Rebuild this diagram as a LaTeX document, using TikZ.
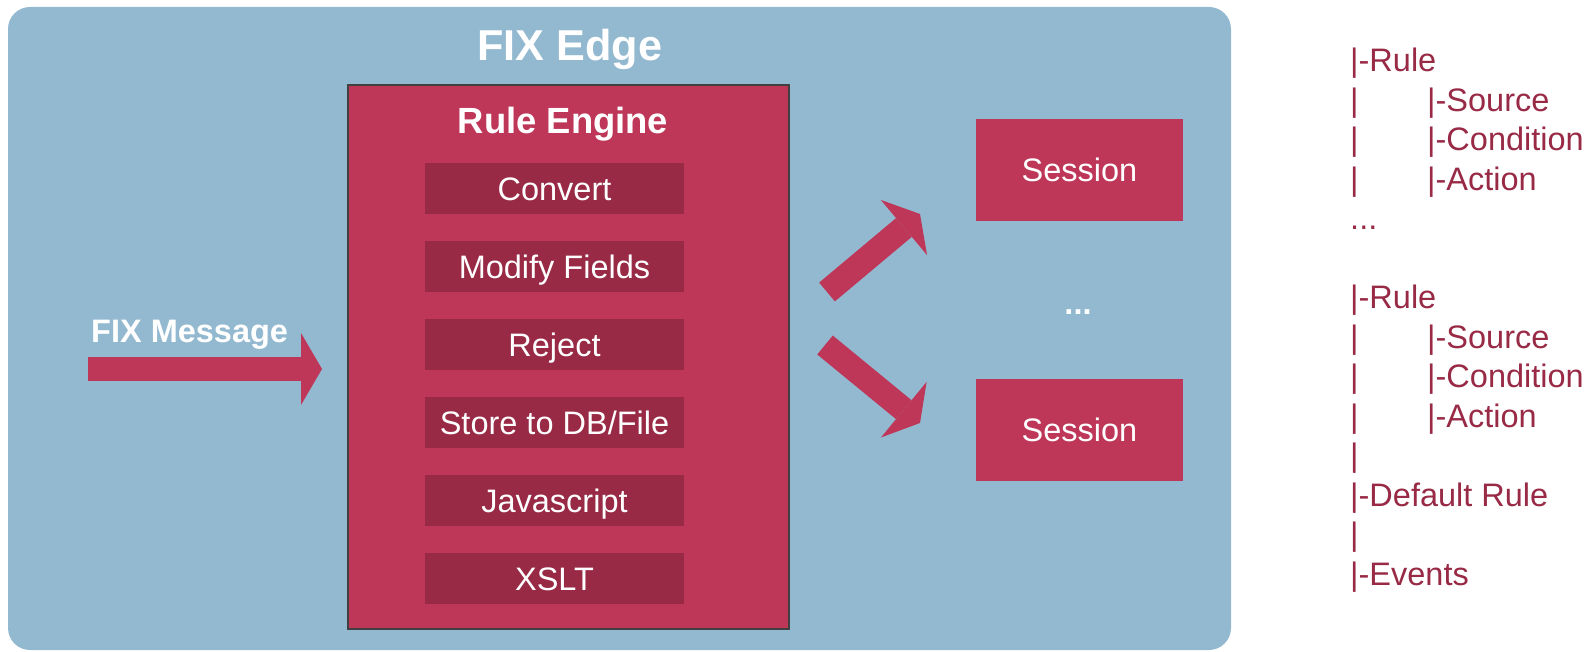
\documentclass[tikz,border=0pt]{standalone}
\usepackage{fontspec}
\setmainfont{Liberation Sans}
\usetikzlibrary{arrows.meta,positioning}
\definecolor{edgeblue}{RGB}{147,185,208}
\definecolor{enginered}{RGB}{190,55,88}
\definecolor{opred}{RGB}{152,42,70}
\newcommand{\treebar}{\makebox[77pt][l]{|}}
\begin{document}
\begin{tikzpicture}[x=1pt,y=-1pt,
    label text/.style={text=white, inner sep=0pt, font=\fontsize{32.5}{39}\selectfont, text height=23.3pt, text depth=0pt},
    opbox/.style={label text, fill=opred, minimum width=259pt, minimum height=51pt},
    sessionbox/.style={label text, fill=enginered, minimum width=207pt, minimum height=102pt},
    treeline/.style={label text, text=opred, anchor=west},
    bigarrow/.style={draw=enginered, line width=24.5pt, -{Triangle[length=21pt,width=72pt,line width=0pt]}}]
    \useasboundingbox (0,0) rectangle (1592,652);

    \node[fill=edgeblue, rounded corners=22pt, minimum width=1223pt, minimum height=643pt, inner sep=0pt] (edge) at (619.5,328.5) {};
    \node[label text, font=\bfseries\fontsize{43.2}{50}\selectfont, text height=31pt] (edgetitle) at (570,45.5) {FIX Edge};

    \node[draw=black!75, line width=1.5pt, fill=enginered, minimum width=441pt, minimum height=544pt, inner sep=0pt] (engine) at (568.5,357) {};
    \node[label text, font=\bfseries\fontsize{36.4}{43}\selectfont, text height=26pt] (enginetitle) at (563,120.5) {Rule Engine};

    \foreach \i/\op in {0/{Convert},1/{Modify Fields},2/{Reject},3/{Store to DB/File},4/{Javascript},5/{XSLT}}
        \node[opbox] (op\i) at (554.5,188.5+78*\i) {\op};

    \node[sessionbox] (session1) at (1079.5,170) {Session};
    \node[sessionbox] (session2) at (1079.5,430) {Session};
    \node[label text, font=\bfseries\fontsize{32.5}{39}\selectfont] (sessiondots) at (1078,303) {...};

    \coordinate (msgtail) at (88,369);
    \coordinate (msgtip) at (322,369);
    \draw[bigarrow] (msgtail) -- (msgtip);
    \node[label text, font=\bfseries\fontsize{32.5}{39}\selectfont, anchor=west] (msglabel) at (91,330.5) {FIX Message};

    \coordinate (uptail) at (827,292);
    \coordinate (uptip) at (920,214);
    \coordinate (lowtail) at (825,345);
    \coordinate (lowtip) at (920,423);
    \draw[bigarrow] (uptail) -- (uptip);
    \draw[bigarrow] (lowtail) -- (lowtip);

    \foreach \i/\txt in {0/{|-Rule},1/{\treebar|-Source},2/{\treebar|-Condition},3/{\treebar|-Action},4/{...},
                         6/{|-Rule},7/{\treebar|-Source},8/{\treebar|-Condition},9/{\treebar|-Action},
                         10/{|},11/{|-Default Rule},12/{|},13/{|-Events}}
        \node[treeline] (tree\i) at (1350,60+39.5*\i) {\txt};
\end{tikzpicture}
\end{document}
